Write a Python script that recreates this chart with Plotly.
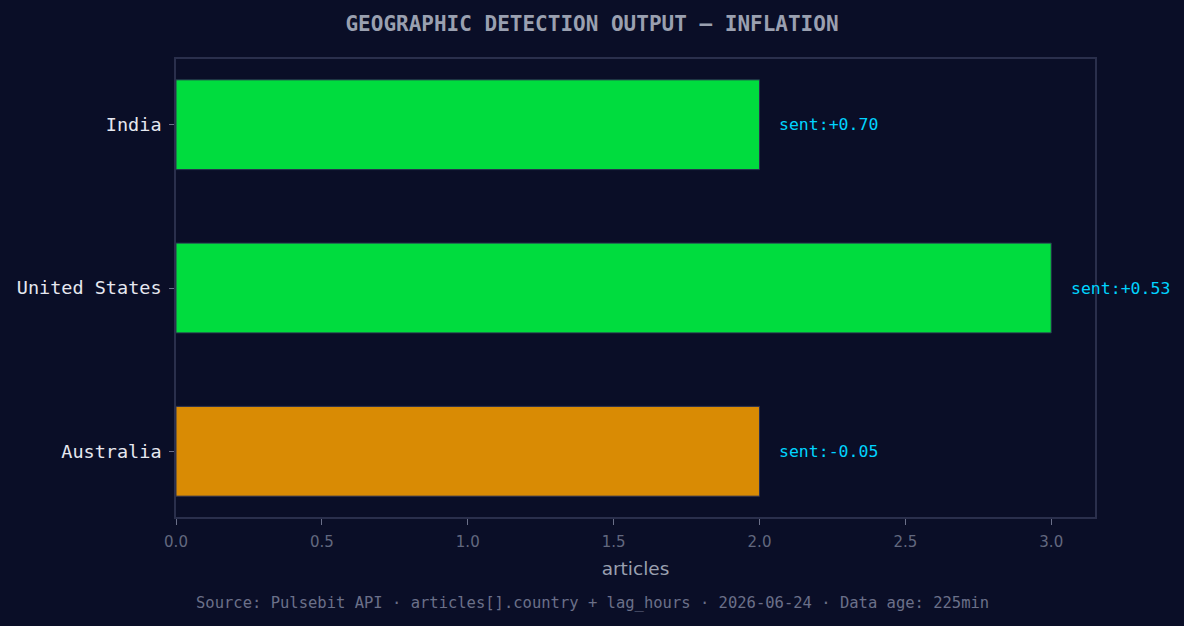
import plotly.graph_objects as go

countries = ["Australia", "United States", "India"]
articles = [2, 3, 2]
sentiment = [-0.05, 0.53, 0.70]
bar_colors = ["#d98b04", "#00dc3e", "#00dc3e"]

BG = "#0a0e27"
GRID = "#2a2f4c"
MONO = "DejaVu Sans Mono"

L, R, T, B = 176, 1095, 59, 517

fig = go.Figure()
fig.add_trace(go.Bar(
    y=countries, x=articles, orientation="h",
    marker=dict(color=bar_colors, line=dict(color="#2a3050", width=1)),
    width=0.55, hoverinfo="skip",
))

for c, a, s in zip(countries, articles, sentiment):
    fig.add_annotation(x=a + 0.06, y=c, text=f"sent:{s:+.2f}", showarrow=False,
                       xanchor="left", yanchor="middle",
                       font=dict(family=MONO, size=16.5, color="#00d4ff"))

fig.add_annotation(text="Source: Pulsebit API · articles[].country + lag_hours · 2026-06-24 · Data age: 225min",
                   xref="paper", yref="paper",
                   x=(592 - L) / (R - L), y=-(603 - B) / (B - T),
                   showarrow=False, xanchor="center", yanchor="middle",
                   font=dict(family=MONO, size=15.5, color="#6b7089"))

fig.update_layout(
    width=1184, height=626,
    paper_bgcolor=BG, plot_bgcolor=BG,
    margin=dict(l=L, r=1184 - R, t=T, b=626 - B),
    showlegend=False,
    title=dict(text="<b>GEOGRAPHIC DETECTION OUTPUT — INFLATION</b>", x=0.5, xanchor="center",
               y=1 - 24 / 626, yanchor="middle",
               font=dict(family=MONO, size=21, color="#9aa0b0")),
    xaxis=dict(range=[0, 3.15], tickvals=[0, 0.5, 1, 1.5, 2, 2.5, 3],
               ticktext=["0.0", "0.5", "1.0", "1.5", "2.0", "2.5", "3.0"],
               showgrid=False, zeroline=False, showline=True, linecolor=GRID, linewidth=1.5,
               mirror=True, ticks="outside", ticklen=6, tickcolor="#6b7089",
               ticklabelstandoff=4,
               tickfont=dict(family="DejaVu Sans", size=15, color="#62687f"),
               title=dict(text="articles", font=dict(family="DejaVu Sans", size=18.5, color="#9aa0b0"),
                          standoff=12)),
    yaxis=dict(range=[-0.4025, 2.4025], categoryorder="array", categoryarray=countries,
               showgrid=False, zeroline=False, showline=True, linecolor=GRID, linewidth=1.5,
               mirror=True, ticks="outside", ticklen=5, tickcolor="#6b7089",
               ticklabelstandoff=4,
               tickfont=dict(family=MONO, size=18.5, color="#e6e8f0")),
)

fig.write_html("out.html")
